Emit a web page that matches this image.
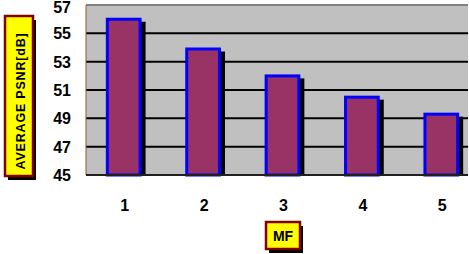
<!DOCTYPE html>
<html>
<head>
<meta charset="utf-8">
<script src="https://cdn.jsdelivr.net/npm/d3@7"></script>
<style>
  body { margin: 0; background: #fff; }
  text { font-family: "Liberation Sans", Arial, sans-serif; font-weight: bold; }
</style>
</head>
<body>
<div id="chart"></div>
<script>
const width = 469;
const height = 254;
const margin = { top: 5, right: 1, bottom: 79, left: 86 };

const categories = ["1", "2", "3", "4", "5"];
const psnr = [56.1, 54.0, 52.1, 50.6, 49.4];
const yTicks = [45, 47, 49, 51, 53, 55, 57];

const svg = d3
  .select("#chart")
  .append("svg")
  .attr("width", width)
  .attr("height", height);

const xScale = d3
  .scaleBand()
  .domain(categories)
  .range([84, 481])
  .paddingInner(0.55)
  .paddingOuter(0.275);

const yScale = d3
  .scaleLinear()
  .domain([45, 57])
  .range([height - margin.bottom, margin.top]);

// plot background
svg
  .append("rect")
  .attr("x", margin.left)
  .attr("y", margin.top)
  .attr("width", width - margin.right - margin.left)
  .attr("height", height - margin.bottom - margin.top)
  .attr("fill", "#c0c0c0");

// gridlines
svg
  .append("g")
  .selectAll("line")
  .data(yTicks.slice(1, -1))
  .enter()
  .append("line")
  .attr("x1", margin.left)
  .attr("x2", width - margin.right)
  .attr("y1", (d) => yScale(d))
  .attr("y2", (d) => yScale(d))
  .attr("stroke", "#000")
  .attr("stroke-width", 2);

// top border
svg
  .append("line")
  .attr("x1", margin.left)
  .attr("x2", width - margin.right)
  .attr("y1", margin.top)
  .attr("y2", margin.top)
  .attr("stroke", "#808080")
  .attr("stroke-width", 2);

// bar shadows
svg
  .append("g")
  .selectAll("rect")
  .data(psnr)
  .enter()
  .append("rect")
  .attr("x", (d, i) => xScale(categories[i]) + 4)
  .attr("y", (d) => yScale(d) + 4)
  .attr("width", xScale.bandwidth())
  .attr("height", (d) => yScale(45) - yScale(d) - 4)
  .attr("fill", "#000");

// bars
svg
  .append("g")
  .selectAll("rect")
  .data(psnr)
  .enter()
  .append("rect")
  .attr("x", (d, i) => xScale(categories[i]) + 1.5)
  .attr("y", (d) => yScale(d) + 1.5)
  .attr("width", xScale.bandwidth() - 3)
  .attr("height", (d) => yScale(45) - yScale(d) - 1.5)
  .attr("fill", "#993366")
  .attr("stroke", "#0000ff")
  .attr("stroke-width", 3);

// left axis line
svg
  .append("line")
  .attr("x1", margin.left)
  .attr("x2", margin.left)
  .attr("y1", margin.top)
  .attr("y2", yScale(45))
  .attr("stroke", "#a0522d")
  .attr("stroke-width", 1);

// bottom axis line
svg
  .append("line")
  .attr("x1", margin.left)
  .attr("x2", width - margin.right)
  .attr("y1", yScale(45))
  .attr("y2", yScale(45))
  .attr("stroke", "#202020")
  .attr("stroke-width", 2);

// y tick labels
svg
  .append("g")
  .selectAll("text")
  .data(yTicks)
  .enter()
  .append("text")
  .attr("x", 71)
  .attr("y", (d) => Math.max(yScale(d) + 6, 13))
  .attr("text-anchor", "end")
  .attr("font-size", "16px")
  .text((d) => d);

// x tick labels
svg
  .append("g")
  .selectAll("text")
  .data(categories)
  .enter()
  .append("text")
  .attr("x", (d) => xScale(d) + xScale.bandwidth() / 2 + 1)
  .attr("y", 211)
  .attr("text-anchor", "middle")
  .attr("font-size", "16px")
  .text((d) => d);

// title boxes with shadow
function labelBox(x, y, w, h) {
  svg
    .append("rect")
    .attr("x", x + 3)
    .attr("y", y + 4)
    .attr("width", w)
    .attr("height", h)
    .attr("fill", "#000");
  svg
    .append("rect")
    .attr("x", x)
    .attr("y", y)
    .attr("width", w)
    .attr("height", h)
    .attr("fill", "#ffff00")
    .attr("stroke", "#800000")
    .attr("stroke-width", 2.5);
}

labelBox(5, 16, 28, 160);
svg
  .append("text")
  .attr("transform", `translate(25,101) rotate(-90)`)
  .attr("text-anchor", "middle")
  .attr("font-size", "12.5px")
  .attr("letter-spacing", "0.8px")
  .text("AVERAGE PSNR[dB]");

labelBox(266, 222, 34, 27);
svg
  .append("text")
  .attr("x", 283)
  .attr("y", 241)
  .attr("text-anchor", "middle")
  .attr("font-size", "14px")
  .text("MF");
</script>
</body>
</html>
